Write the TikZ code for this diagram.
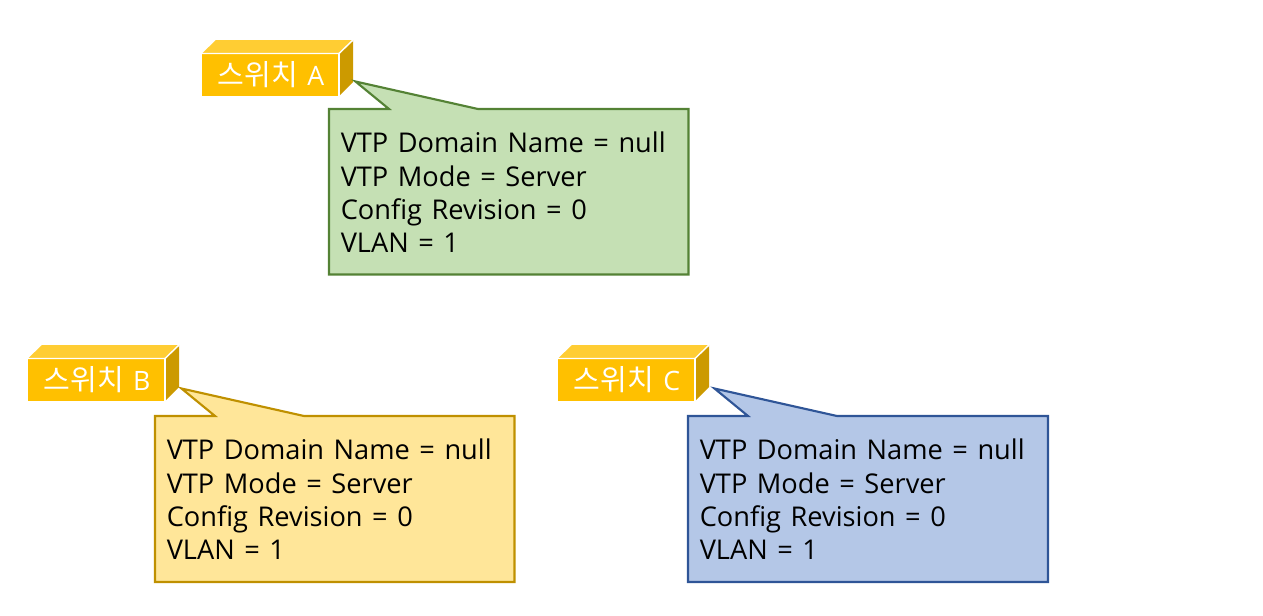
\documentclass[tikz,border=0pt]{standalone}
\usepackage{fontspec}
\setmainfont[WordSpace=1.35]{Open Sans}
\newfontfamily\krfont[Scale=1.09]{Noto Sans CJK KR}
\definecolor{swfront}{HTML}{FFC000}
\definecolor{swtop}{HTML}{FFCD33}
\definecolor{swside}{HTML}{CC9A00}
\definecolor{gfill}{HTML}{C5E0B4}
\definecolor{gline}{HTML}{548235}
\definecolor{yfill}{HTML}{FFE699}
\definecolor{yline}{HTML}{BF9000}
\definecolor{bfill}{HTML}{B4C7E7}
\definecolor{bline}{HTML}{2F5597}
\tikzset{
  x=0.75pt,y=-0.75pt,
  edge/.style={draw=white,line width=1.1pt,line join=miter},
  swlabel/.style={text=white,font=\fontsize{20}{24}\selectfont,inner sep=0pt,anchor=center},
  infotext/.style={anchor=north west,inner sep=0pt,align=left,text=black,
    font=\fontsize{20.4}{25}\selectfont},
  callout/.style={line width=1.6pt,line join=miter}
}
% #1 name, #2 x, #3 y (front top-left), #4 label
\newcommand{\switchbox}[4]{%
  \path[fill=swfront] (#2,#3) rectangle (#2+137,#3+42.5);
  \path[fill=swtop] (#2,#3) -- (#2+14,#3-13.5) -- (#2+151,#3-13.5) -- (#2+137,#3) -- cycle;
  \path[fill=swside] (#2+137,#3) -- (#2+151,#3-13.5) -- (#2+151,#3+28.5) -- (#2+137,#3+42.5) -- cycle;
  \draw[edge] (#2,#3) -- (#2+137,#3) -- (#2+151,#3-13.5);
  \draw[edge] (#2+137,#3) -- (#2+137,#3+42.5);
  \node[swlabel] (#1) at (#2+69,#3+21) {{\krfont 스위치} #4};
}
% #1 name, #2 left, #3 top, #4 width, #5 height, #6 fill, #7 line
\newcommand{\infobox}[7]{%
  \coordinate (#1tip) at (#2+26.5,#3-27.5);
  \draw[callout,fill=#6,draw=#7] (#2,#3) -- (#2+60,#3) -- (#1tip) -- (#2+149,#3) -- (#2+#4,#3)
    -- (#2+#4,#3+#5) -- (#2,#3+#5) -- cycle;
  \node[infotext] (#1) at (#2+11.5,#3+23) {VTP Domain Name = null\\VTP Mode = Server\\Config Revision = 0\\VLAN = 1};
}
\begin{document}
\begin{tikzpicture}
\useasboundingbox (0,0) rectangle (1263,615);
\switchbox{swa}{202}{53.5}{A}
\switchbox{swb}{28}{358.5}{B}
\switchbox{swc}{558}{358.5}{C}
\infobox{infoa}{329}{109}{359.5}{165.5}{gfill}{gline}
\infobox{infob}{155}{416}{359.5}{166}{yfill}{yline}
\infobox{infoc}{688}{416}{360}{166}{bfill}{bline}
\end{tikzpicture}
\end{document}
